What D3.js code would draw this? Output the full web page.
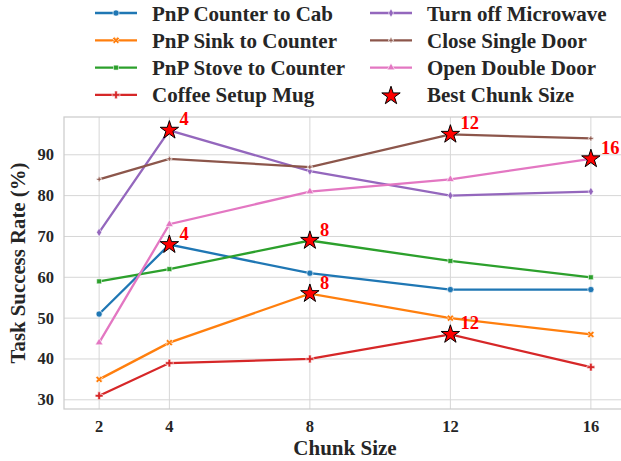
<!DOCTYPE html>
<html>
<head>
<script src="https://d3js.org/d3.v7.min.js"></script>
<style>
body { margin: 0; background: #fff; }
text { font-family: "Liberation Serif", "Times New Roman", serif; font-weight: bold; }
</style>
</head>
<body>
<script>
var chunkSizes = [2, 4, 8, 12, 16];
var yTicks = [30, 40, 50, 60, 70, 80, 90];

var seriesNames = ["PnP Counter to Cab", "PnP Sink to Counter", "PnP Stove to Counter", "Coffee Setup Mug",
                   "Turn off Microwave", "Close Single Door", "Open Double Door"];
var counterToCab = [51, 68, 61, 57, 57];
var sinkToCounter = [35, 44, 56, 50, 46];
var stoveToCounter = [59, 62, 69, 64, 60];
var coffeeSetupMug = [31, 39, 40, 46, 38];
var turnOffMicrowave = [71, 96, 86, 80, 81];
var closeSingleDoor = [84, 89, 87, 95, 94];
var openDoubleDoor = [44, 73, 81, 84, 89];
var seriesValues = [counterToCab, sinkToCounter, stoveToCounter, coffeeSetupMug,
                    turnOffMicrowave, closeSingleDoor, openDoubleDoor];
// best chunk size per series (index into chunkSizes)
var bestIndex = [1, 2, 2, 3, 1, 3, 4];

var colors = ["#1f77b4", "#ff7f0e", "#2ca02c", "#d62728", "#9467bd", "#8c564b", "#e377c2"];

var width = 621, height = 461;
var margin = {top: 117, left: 64, bottom: 52, right: -5};

var svg = d3.select("body").append("svg")
    .attr("width", width)
    .attr("height", height);

var x = d3.scaleLinear().domain([1, 17]).range([margin.left, width - margin.right]);
var y = d3.scaleLinear().domain([27.75, 99.25]).range([height - margin.bottom, margin.top]);

// grid
svg.append("g").selectAll("line").data(chunkSizes).enter().append("line")
    .attr("x1", function(d) { return x(d); }).attr("x2", function(d) { return x(d); })
    .attr("y1", y.range()[1]).attr("y2", y.range()[0])
    .attr("stroke", "#d6d6d6").attr("stroke-width", 1);
svg.append("g").selectAll("line").data(yTicks).enter().append("line")
    .attr("x1", x.range()[0]).attr("x2", x.range()[1])
    .attr("y1", function(d) { return y(d); }).attr("y2", function(d) { return y(d); })
    .attr("stroke", "#d6d6d6").attr("stroke-width", 1);

// frame
svg.append("rect")
    .attr("x", x.range()[0]).attr("y", y.range()[1])
    .attr("width", x.range()[1] - x.range()[0]).attr("height", y.range()[0] - y.range()[1])
    .attr("fill", "none").attr("stroke", "#cccccc").attr("stroke-width", 1.25);

// tick labels
svg.append("g").selectAll("text").data(chunkSizes).enter().append("text")
    .attr("x", function(d) { return x(d); }).attr("y", y.range()[0] + 23)
    .attr("text-anchor", "middle").attr("font-size", 16.5).attr("fill", "#262626")
    .text(function(d) { return d; });
svg.append("g").selectAll("text").data(yTicks).enter().append("text")
    .attr("x", x.range()[0] - 10).attr("y", function(d) { return y(d) + 5.5; })
    .attr("text-anchor", "end").attr("font-size", 16.5).attr("fill", "#262626")
    .text(function(d) { return d; });

svg.append("text")
    .attr("x", 345).attr("y", 455)
    .attr("text-anchor", "middle").attr("font-size", 21).attr("fill", "#262626")
    .text("Chunk Size");
svg.append("text")
    .attr("transform", "translate(25," + ((y.range()[0] + y.range()[1]) / 2) + ") rotate(-90)")
    .attr("text-anchor", "middle").attr("font-size", 20.8).attr("fill", "#262626")
    .text("Task Success Rate (%)");

var markerTypes = [
    {type: d3.symbolCircle, size: 30, rot: 0},
    {type: d3.symbolCross, size: 30, rot: 45},
    {type: d3.symbolSquare, size: 24, rot: 0},
    {type: d3.symbolCross, size: 34, rot: 0},
    {type: d3.symbolDiamond, size: 22, rot: 0},
    {type: d3.symbolCross, size: 14, rot: 0},
    {type: d3.symbolTriangle, size: 26, rot: 0}
];

var line = d3.line()
    .x(function(d, i) { return x(chunkSizes[i]); })
    .y(function(d) { return y(d); });

seriesValues.forEach(function(vals, s) {
    var g = svg.append("g");
    g.append("path").datum(vals)
        .attr("d", line).attr("fill", "none")
        .attr("stroke", colors[s]).attr("stroke-width", 2.3);
    g.selectAll("path.m").data(vals).enter().append("path")
        .attr("class", "m")
        .attr("transform", function(d, i) {
            return "translate(" + x(chunkSizes[i]) + "," + y(d) + ") rotate(" + markerTypes[s].rot + ")";
        })
        .attr("d", d3.symbol().type(markerTypes[s].type).size(markerTypes[s].size))
        .attr("fill", colors[s]).attr("stroke", "#fff").attr("stroke-width", 0.6);
});

// best chunk stars
var star = d3.symbol().type(d3.symbolStar).size(105);
seriesValues.forEach(function(vals, s) {
    var i = bestIndex[s];
    var cx = x(chunkSizes[i]), cy = y(vals[i]);
    svg.append("path")
        .attr("transform", "translate(" + cx + "," + cy + ")")
        .attr("d", star).attr("fill", "#ff0000").attr("stroke", "#000").attr("stroke-width", 1);
    svg.append("text")
        .attr("x", cx + 10).attr("y", cy - 5)
        .attr("font-size", 18.5).attr("fill", "#ff0000")
        .text(chunkSizes[i]);
});

// legend
var legendItems = seriesNames.map(function(n, i) { return {name: n, idx: i}; });
legendItems.push({name: "Best Chunk Size", idx: -1});
var legend = svg.append("g");
legendItems.forEach(function(item, k) {
    var col = Math.floor(k / 4), row = k % 4;
    var lx = col === 0 ? 95 : 370;
    var ly = 13 + row * 27.3;
    var g = legend.append("g").attr("transform", "translate(" + lx + "," + ly + ")");
    if (item.idx >= 0) {
        g.append("line").attr("x1", 0).attr("x2", 42).attr("y1", 0).attr("y2", 0)
            .attr("stroke", colors[item.idx]).attr("stroke-width", 2.3);
        var m = markerTypes[item.idx];
        g.append("path")
            .attr("transform", "translate(21,0) rotate(" + m.rot + ")")
            .attr("d", d3.symbol().type(m.type).size(m.size))
            .attr("fill", colors[item.idx]).attr("stroke", "#fff").attr("stroke-width", 0.6);
    } else {
        g.append("path").attr("transform", "translate(21,1)")
            .attr("d", star).attr("fill", "#ff0000").attr("stroke", "#000").attr("stroke-width", 1);
    }
    g.append("text").attr("x", 57).attr("y", 7.5)
        .attr("font-size", 21).attr("fill", "#262626")
        .text(item.name);
});
</script>
</body>
</html>
